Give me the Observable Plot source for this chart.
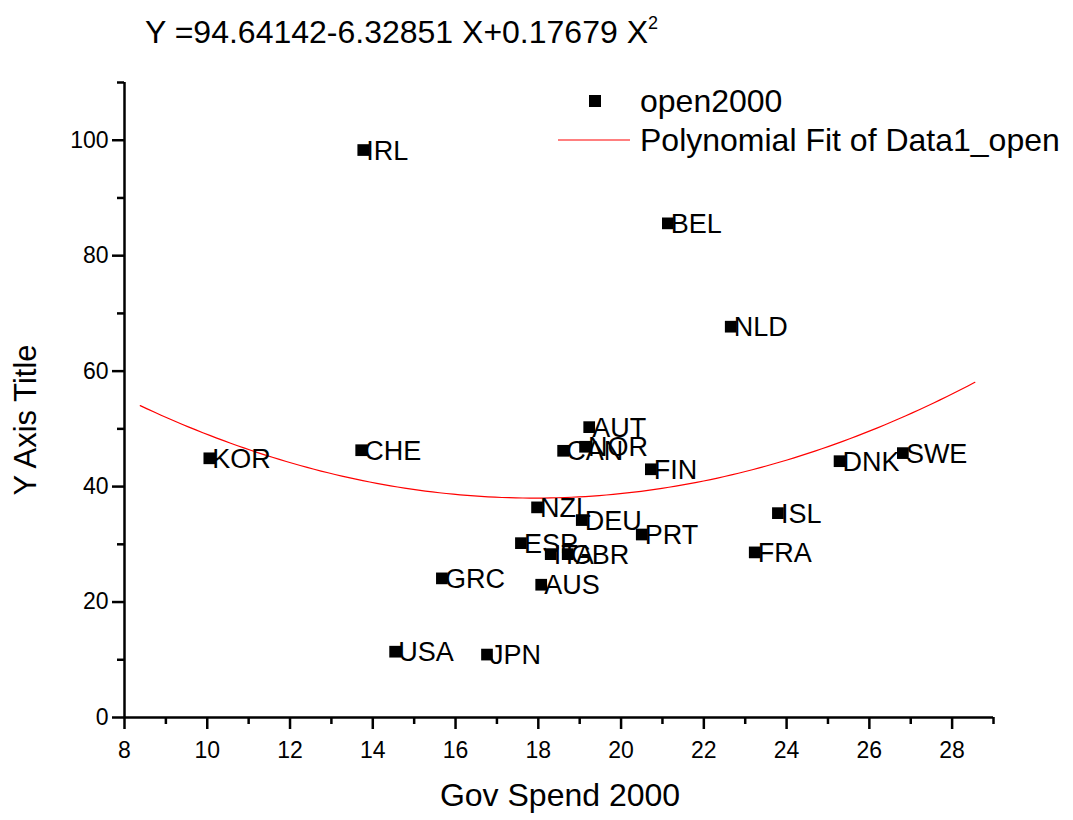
<!DOCTYPE html>
<html>
<head>
<meta charset="utf-8">
<script src="https://cdn.jsdelivr.net/npm/d3@7"></script>
<script src="https://cdn.jsdelivr.net/npm/@observablehq/plot@0.6"></script>
<style>
  html, body { margin: 0; padding: 0; background: #fff; }
  #wrap { position: relative; width: 1073px; height: 820px; font-family: "Liberation Sans", Arial, sans-serif; }
  #wrap svg { position: absolute; left: 0; top: 0; }
</style>
</head>
<body>
<div id="wrap"></div>
<script>
// ---- data ----
const countries = ["IRL","BEL","NLD","KOR","CHE","AUT","CAN","NOR","FIN","NZL","DEU","PRT","ESP","ITA","GBR","AUS","GRC","USA","JPN","ISL","FRA","DNK","SWE"];
const govSpend2000 = [13.77,21.13,22.65,10.05,13.72,19.23,18.60,19.13,20.72,17.97,19.05,20.50,17.58,18.30,18.71,18.07,15.67,14.54,16.76,23.79,23.23,25.28,26.81];
const open2000 = [98.3,85.6,67.7,44.9,46.3,50.3,46.2,46.9,43.0,36.4,34.2,31.7,30.2,28.3,28.3,23.0,24.1,11.4,10.9,35.4,28.6,44.4,45.8];
// Polynomial fit shown in the chart title: Y = b0 + b1 X + b2 X^2
const fitCoefficients = [94.64142, -6.32851, 0.17679];
const fitRange = [8.38, 28.55];
const xMajorTicks = [8,10,12,14,16,18,20,22,24,26,28];
const xMinorTicks = [9,11,13,15,17,19,21,23,25,27,29];
const yMajorTicks = [0,20,40,60,80,100];
const yMinorTicks = [10,30,50,70,90,110];
const xLabel = "Gov Spend 2000";
const yLabel = "Y Axis Title";
const legendLabels = ["open2000", "Polynomial Fit of Data1_open"];

const points = countries.map((c, i) => ({country: c, x: govSpend2000[i], y: open2000[i]}));
const nFit = 120;
const fitLine = d3.range(nFit + 1).map(i => {
  const x = fitRange[0] + (fitRange[1] - fitRange[0]) * i / nFit;
  return {x, y: fitCoefficients[0] + fitCoefficients[1] * x + fitCoefficients[2] * x * x};
});

const font = '"Liberation Sans", Arial, sans-serif';

const chart = Plot.plot({
  width: 1073,
  height: 820,
  marginLeft: 124,
  marginRight: 80,
  marginTop: 82,
  marginBottom: 103,
  style: {fontFamily: font, color: "#000", background: "#fff", overflow: "visible"},
  x: {domain: [8, 29]},
  y: {domain: [0, 110]},
  marks: [
    Plot.line(fitLine, {x: "x", y: "y", stroke: "#ff0000", strokeWidth: 1.2}),
    Plot.ruleY([0], {stroke: "#000", strokeWidth: 2.5}),
    Plot.ruleX([8], {stroke: "#000", strokeWidth: 2.5}),
    Plot.axisX({ticks: xMajorTicks, tickSize: 12, tickPadding: 12, strokeWidth: 2.5, fontSize: 23, label: null, tickFormat: d => String(d)}),
    Plot.axisX({ticks: xMinorTicks, tickSize: 7, strokeWidth: 2.5, text: null, label: null}),
    Plot.axisY({ticks: yMajorTicks, tickSize: 12, tickPadding: 4, strokeWidth: 2.5, fontSize: 23, label: null, tickFormat: d => String(d)}),
    Plot.axisY({ticks: yMinorTicks, tickSize: 7, strokeWidth: 2.5, text: null, label: null}),
    Plot.dot(points, {x: "x", y: "y", symbol: "square", r: 6.6, fill: "#000", stroke: "none"}),
    Plot.text(points, {x: "x", y: "y", text: "country", textAnchor: "start", dx: 3, dy: 1, fontSize: 27, fill: "#000", lineAnchor: "middle"})
  ]
});
document.getElementById("wrap").appendChild(chart);

// overlay: title, axis titles, legend
const ov = d3.select("#wrap").append("svg")
  .attr("width", 1073).attr("height", 820)
  .style("pointer-events", "none")
  .attr("font-family", font);

const t = ov.append("text").attr("x", 145).attr("y", 43).attr("font-size", 32).attr("fill", "#000");
t.append("tspan").text(`Y =${fitCoefficients[0]}${fitCoefficients[1]} X+${fitCoefficients[2]} X`);
t.append("tspan").attr("font-size", 18).attr("dy", -14).text("2");

ov.append("text").attr("x", 560).attr("y", 806).attr("text-anchor", "middle")
  .attr("font-size", 32).attr("fill", "#000").text(xLabel);
ov.append("text").attr("transform", "translate(36,420) rotate(-90)").attr("text-anchor", "middle")
  .attr("font-size", 31).attr("fill", "#000").text(yLabel);

// legend
ov.append("rect").attr("x", 589).attr("y", 95).attr("width", 12).attr("height", 12).attr("fill", "#000");
ov.append("text").attr("x", 640).attr("y", 101).attr("dy", "0.35em").attr("font-size", 32).attr("fill", "#000").text(legendLabels[0]);
ov.append("line").attr("x1", 558).attr("x2", 630).attr("y1", 140).attr("y2", 140).attr("stroke", "#ff0000").attr("stroke-width", 1.2);
ov.append("text").attr("x", 640).attr("y", 140).attr("dy", "0.35em").attr("font-size", 32).attr("fill", "#000").text(legendLabels[1]);
</script>
</body>
</html>
